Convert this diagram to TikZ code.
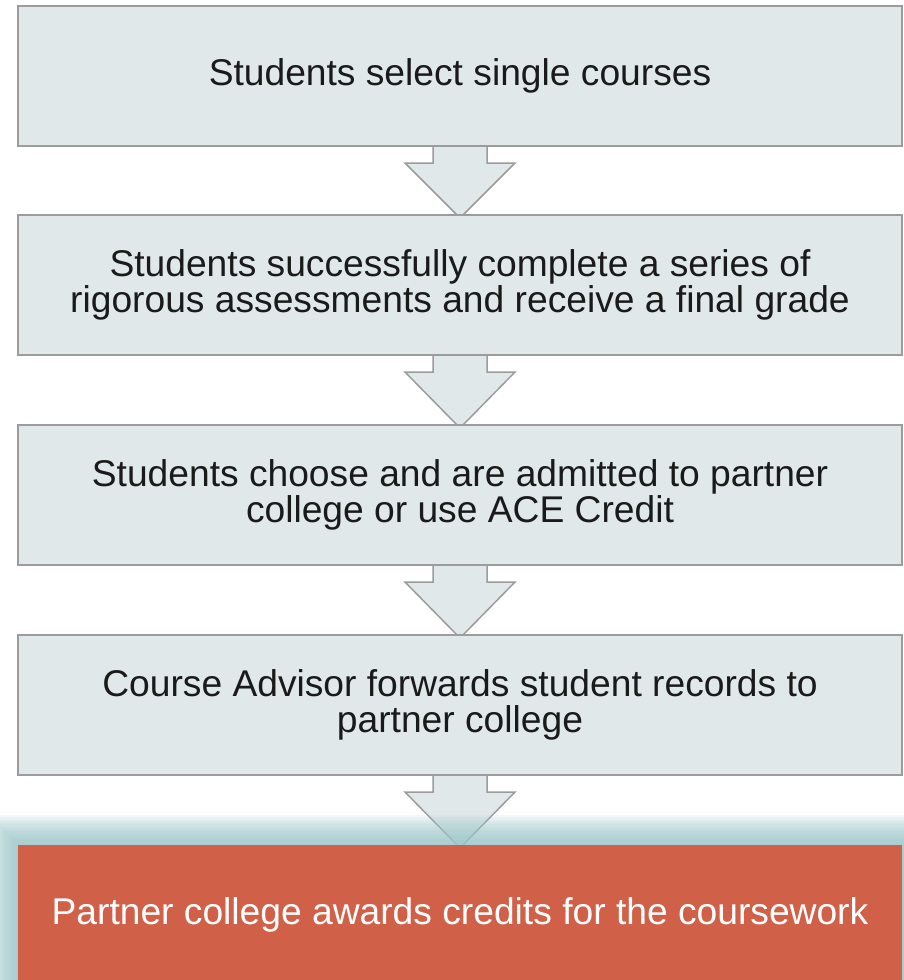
\documentclass[tikz,border=0pt]{standalone}
\usepackage{fontspec}
\setmainfont{Liberation Sans}
\usetikzlibrary{calc}
\definecolor{boxfill}{HTML}{E1E8EA}
\definecolor{boxline}{HTML}{9C9C9C}
\definecolor{txt}{HTML}{1A1A1A}
\definecolor{orangefill}{HTML}{D06148}
\definecolor{glow}{HTML}{9CC8CB}
\tikzset{
  stepbox/.style={draw=boxline, line width=1.5pt, fill=boxfill, minimum width=884pt, minimum height=140pt,
    inner sep=0pt, align=center, text=txt, font=\fontsize{37.2}{35.5}\selectfont},
  finalbox/.style={fill=orangefill, minimum width=884pt, minimum height=140pt,
    inner sep=0pt, align=center, text=white, font=\fontsize{37.2}{35.5}\selectfont},
  flowarrow/.style={draw=boxline, line width=1.5pt, fill=boxfill, line join=miter}
}
\begin{document}
\begin{tikzpicture}[x=1pt,y=-1pt]
\useasboundingbox (0,0) rectangle (904,980);
\clip (0,0) rectangle (904,980);
\fill[white] (0,0) rectangle (904,980);
\path
  (460,76)  coordinate (c1)
  (460,285) coordinate (c2)
  (460,495) coordinate (c3)
  (460,705) coordinate (c4)
  (460,915) coordinate (c5);
% arrow shapes first (behind the boxes)
\foreach \a/\b in {c1/c2, c2/c3, c3/c4, c4/c5}{
  \draw[flowarrow] ($(\a)+(-27,60)$) -- ($(\a)+(-27,87)$) -- ($(\a)+(-55,87)$)
     -- ($(\b)+(0,-67)$) -- ($(\a)+(55,87)$) -- ($(\a)+(27,87)$) -- ($(\a)+(27,60)$);
}
\node[stepbox] (b1) at (c1) {Students select single courses};
\node[stepbox] (b2) at (c2) {Students successfully complete a series of\\rigorous assessments and receive a final grade};
\node[stepbox] (b3) at (c3) {Students choose and are admitted to partner\\college or use ACE Credit};
\node[stepbox] (b4) at (c4) {Course Advisor forwards student records to\\partner college};
% glow around the final box (over the last arrow)
\foreach \i in {1,...,13}{
  \fill[glow, fill opacity=0.12] ($(c5)+(-442-2.3*\i,-70-2.3*\i)$) rectangle ($(c5)+(442+2.3*\i,70+2.3*\i)$);
}
\node[finalbox] (b5) at (c5) {Partner college awards credits for the coursework};
\end{tikzpicture}
\end{document}
